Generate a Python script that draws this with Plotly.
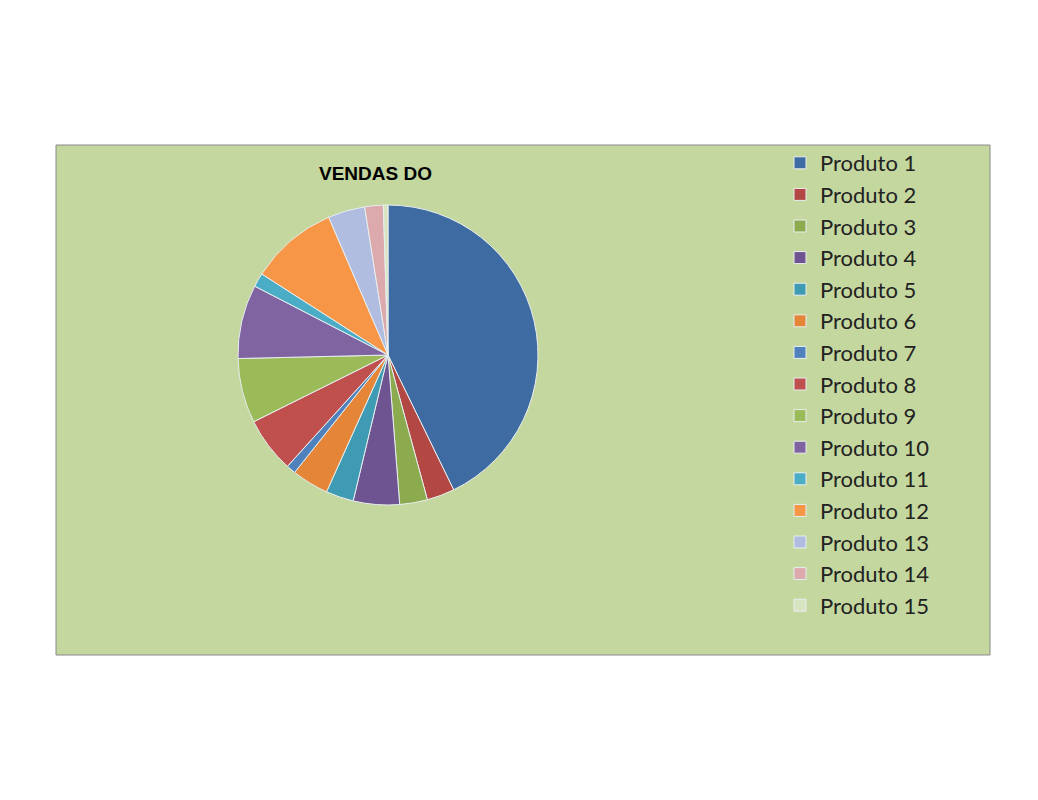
import plotly.graph_objects as go

labels = [f"Produto {i}" for i in range(1, 16)]
values = [43, 3, 3, 5, 3, 4, 1, 6, 7, 8, 1.5, 9.5, 4, 2, 0.5]
colors = ["#3f6ba3", "#b24744", "#8caa4e", "#6e5490", "#3f9bb3", "#e48538",
          "#4f81bd", "#c0504d", "#9bbb59", "#8064a2", "#4bacc6", "#f79646",
          "#b0bde0", "#dcaaac", "#d8e4c0"]

W, H = 1038, 800
o = 8  # page offset
fig = go.Figure(go.Pie(
    labels=labels, values=values, sort=False, direction="clockwise", rotation=0,
    marker=dict(colors=colors, line=dict(color="#e8eef0", width=1)),
    textinfo="none", hoverinfo="label+value",
    domain=dict(x=[(238-o)/W, (538-o)/W], y=[1-(505-o)/H, 1-(205-o)/H]),
))
fig.update_layout(
    width=W, height=H, margin=dict(l=0, r=0, t=0, b=0),
    paper_bgcolor="white", plot_bgcolor="white",
    shapes=[dict(type="rect", xref="paper", yref="paper",
                 x0=(56-o)/W, x1=(990-o)/W, y0=1-(655-o)/H, y1=1-(145-o)/H,
                 fillcolor="#c4d79f", line=dict(color="#8a8a8a", width=1), layer="below")],
    annotations=[dict(text="<b>VENDAS DO</b>", x=(375-o)/W, y=1-(161-o)/H, xref="paper", yref="paper",
                      showarrow=False, font=dict(family="Liberation Sans Narrow, Liberation Sans", size=19, color="black"))],
    legend=dict(x=(780-o)/W, y=1-(142-o)/H, xanchor="left", yanchor="top",
                font=dict(family="Lato", size=22, color="#222"), tracegroupgap=0,
                itemwidth=30, bgcolor="rgba(0,0,0,0)"),
)
fig.write_html("out.html")
